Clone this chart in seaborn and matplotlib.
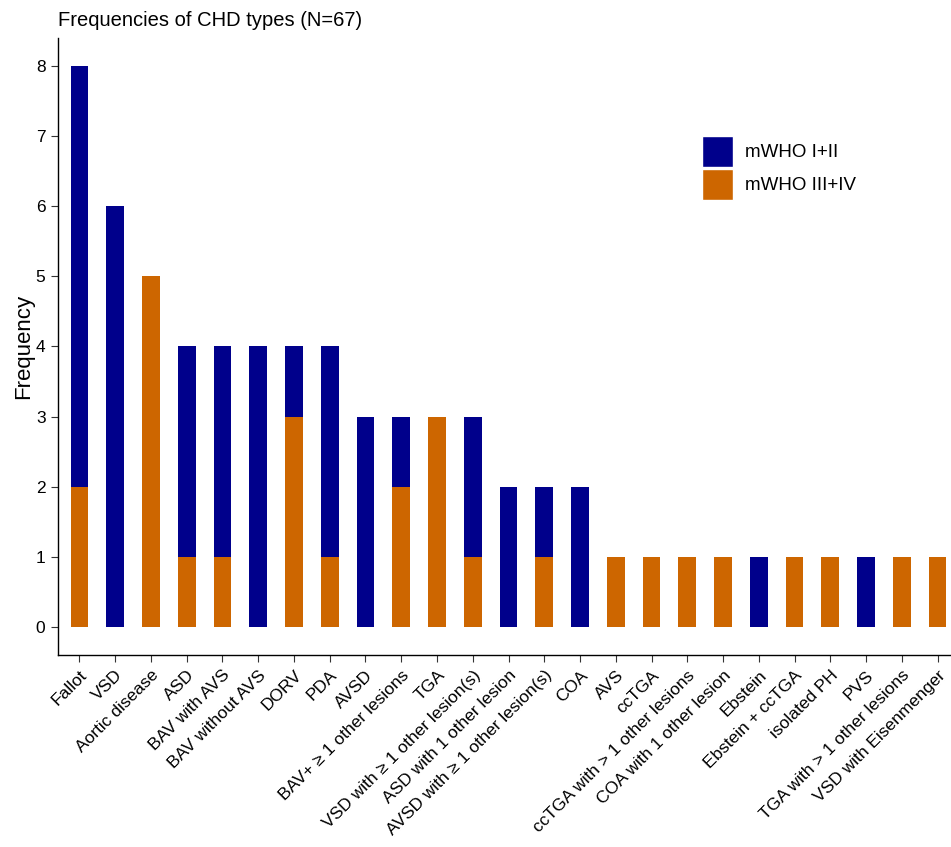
import numpy as np
import pandas as pd
import matplotlib
matplotlib.use("Agg")
import matplotlib.pyplot as plt
from matplotlib.patches import Patch
import seaborn as sns

# CHD types, sorted by total frequency
chd_types = [
    "Fallot", "VSD", "Aortic disease", "ASD", "BAV with AVS", "BAV without AVS",
    "DORV", "PDA", "AVSD", "BAV+ \u2265 1 other lesions", "TGA",
    "VSD with \u2265 1 other lesion(s)", "ASD with 1 other lesion",
    "AVSD with \u2265 1 other lesion(s)", "COA", "AVS", "ccTGA",
    "ccTGA with > 1 other lesions", "COA with 1 other lesion", "Ebstein",
    "Ebstein + ccTGA", "isolated PH", "PVS", "TGA with > 1 other lesions",
    "VSD with Eisenmenger",
]
who_low = [6, 6, 0, 3, 3, 4, 1, 3, 3, 1, 0, 2, 2, 1, 2, 0, 0, 0, 0, 1, 0, 0, 1, 0, 0]   # mWHO I+II
who_high = [2, 0, 5, 1, 1, 0, 3, 1, 0, 2, 3, 1, 0, 1, 0, 1, 1, 1, 1, 0, 1, 1, 0, 1, 1]  # mWHO III+IV

blue = "#00008B"
orange = "#CD6600"

df = pd.DataFrame({"type": chd_types, "low": who_low, "high": who_high})
df["total"] = df["low"] + df["high"]

sns.set_style("white")
plt.rcParams["font.family"] = ["Liberation Sans", "DejaVu Sans"]
plt.rcParams["text.color"] = "black"
plt.rcParams["axes.labelcolor"] = "black"

fig = plt.figure(figsize=(9.51, 8.47), dpi=100)
# right end runs past the figure edge, as in the reference
ax = fig.add_axes([58 / 951, 192 / 847, 901 / 951, 617 / 847])

# stacked bars: full total in blue, then the mWHO III+IV part drawn over it from the bottom
sns.barplot(data=df, x="type", y="total", color=blue, width=0.5, saturation=1,
            ax=ax, linewidth=0)
sns.barplot(data=df, x="type", y="high", color=orange, width=0.5, saturation=1,
            ax=ax, linewidth=0)

ax.set_xlim(-0.6, len(chd_types) - 1 + 0.6)
ax.set_ylim(-0.4, 8.4)
ax.set_yticks(range(0, 9))
ax.set_xlabel("")
ax.set_ylabel("Frequency", fontsize=16, labelpad=1)
ax.set_xticks(range(len(chd_types)))
ax.set_xticklabels(chd_types, rotation=45, ha="right", rotation_mode="anchor", fontsize=12.5)
ax.tick_params(axis="y", labelsize=12.5)
ax.tick_params(axis="both", direction="out", length=5, width=0.8, color="#333333",
               bottom=True, left=True, labelcolor="black", pad=4)

for side in ["top", "right"]:
    ax.spines[side].set_visible(False)
for side in ["left", "bottom"]:
    ax.spines[side].set_color("black")
    ax.spines[side].set_linewidth(1.0)

fig.text(58 / 951, 1 - 20 / 847, "Frequencies of CHD types (N=67)", fontsize=14.5,
         va="center", ha="left")

handles = [Patch(facecolor=blue, label="mWHO I+II"),
           Patch(facecolor=orange, label="mWHO III+IV")]
fig.legend(handles=handles, loc="upper left", bbox_to_anchor=(702 / 951, 1 - 136 / 847),
           frameon=False, fontsize=13.5, handlelength=1.65, handleheight=2.17,
           handletextpad=0.65, labelspacing=0.1, borderaxespad=0, borderpad=0)

fig.savefig("out.png", dpi=100)
